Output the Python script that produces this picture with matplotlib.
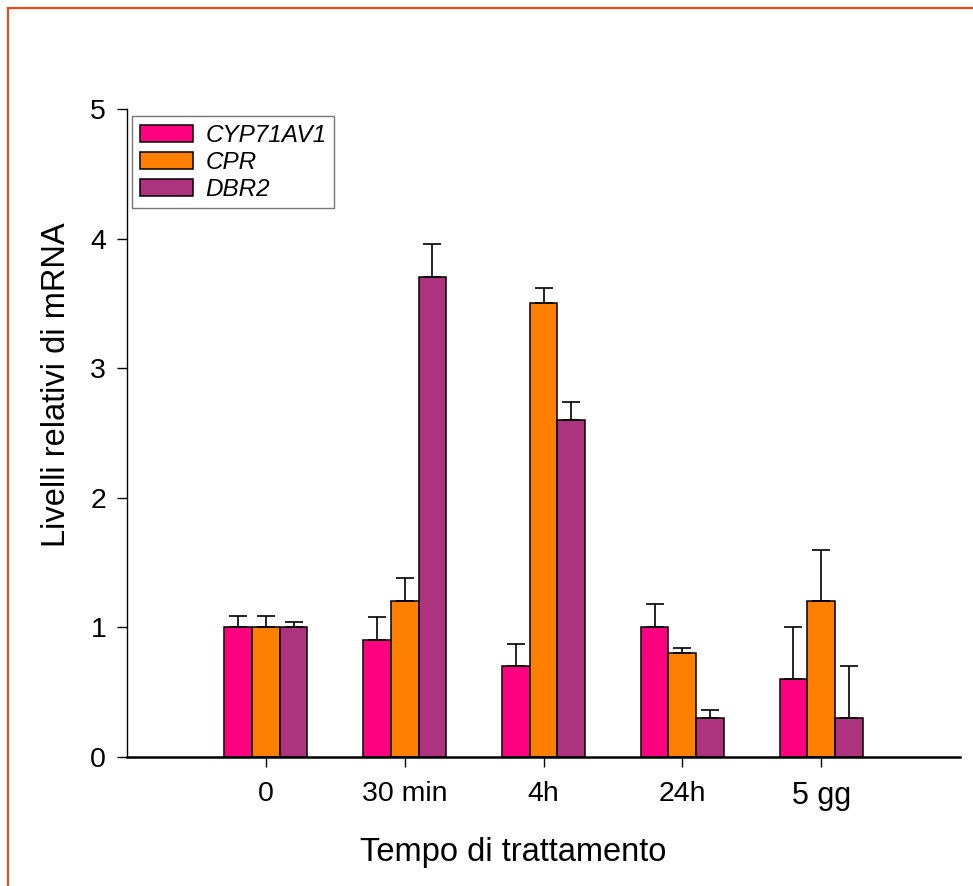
import numpy as np
import matplotlib
matplotlib.use("Agg")
import matplotlib.pyplot as plt
from matplotlib.lines import Line2D

# Data
time_points = ["0", "30 min", "4h", "24h", "5 gg"]
genes = ["CYP71AV1", "CPR", "DBR2"]
cyp71av1 = [1.0, 0.9, 0.7, 1.0, 0.6]
cpr = [1.0, 1.2, 3.5, 0.8, 1.2]
dbr2 = [1.0, 3.7, 2.6, 0.3, 0.3]
cyp71av1_err = [0.09, 0.18, 0.17, 0.18, 0.40]
cpr_err = [0.09, 0.18, 0.12, 0.04, 0.40]
dbr2_err = [0.04, 0.26, 0.14, 0.06, 0.40]
y_ticks = [0, 1, 2, 3, 4, 5]

colors = ["#FF0080", "#FF8000", "#AD337E"]
series = [cyp71av1, cpr, dbr2]
errors = [cyp71av1_err, cpr_err, dbr2_err]

plt.rcParams["font.family"] = ["Liberation Sans", "DejaVu Sans"]

W, H = 973, 886
fig = plt.figure(figsize=(W / 100, H / 100), dpi=100)
ax = fig.add_axes([127 / W, 1 - 757 / H, (960 - 127) / W, (757 - 109) / H])

x = np.arange(len(time_points))
width = 0.2
for i, (vals, errs, col, name) in enumerate(zip(series, errors, colors, genes)):
    pos = x + (i - 1) * width
    ax.bar(pos, vals, width=width, color=col, edgecolor="black",
           linewidth=1.1, label=name, zorder=2)
    ax.errorbar(pos, vals, yerr=[np.zeros(len(vals)), errs], fmt="none",
                ecolor="black", elinewidth=1.2, capsize=6.5, capthick=1.2,
                zorder=3)

ax.set_xlim(-1, 5)
ax.set_ylim(0, 5)
ax.set_yticks(y_ticks)
ax.set_yticklabels([str(v) for v in y_ticks], fontsize=20.5)
ax.set_xticks(x)
ax.set_xticklabels(time_points, fontsize=20.5)
ax.get_xticklabels()[-1].set_fontsize(22)

for side in ("top", "right"):
    ax.spines[side].set_visible(False)
ax.spines["left"].set_linewidth(1.0)
ax.spines["bottom"].set_linewidth(1.8)
ax.tick_params(axis="y", direction="out", length=7, width=1.0, pad=8)
ax.tick_params(axis="x", direction="out", length=7, width=1.0, pad=10)

fig.text(57 / W, 1 - 385 / H, "Livelli relativi di mRNA", rotation=90,
         ha="center", va="center", fontsize=23.5)
fig.text(513 / W, 1 - 852 / H, "Tempo di trattamento",
         ha="center", va="center", fontsize=23.5)

leg = ax.legend(loc="upper left", bbox_to_anchor=(0.006, 0.989),
                borderaxespad=0, fancybox=False, frameon=True,
                prop={"style": "italic", "size": 17.5},
                handlelength=2.2, handleheight=0.72, handletextpad=0.5,
                labelspacing=0.16, borderpad=0.32)
leg.get_frame().set_edgecolor("#555555")
leg.get_frame().set_linewidth(1.0)

# Frame lines along the left and top edges of the figure
frame_col = "#FF4010"
fig.add_artist(Line2D([8 / W, 8 / W], [0, 1 - 8 / H], transform=fig.transFigure,
                      color=frame_col, linewidth=1.5))
fig.add_artist(Line2D([8 / W, 1], [1 - 8 / H, 1 - 8 / H], transform=fig.transFigure,
                      color=frame_col, linewidth=1.5))

fig.savefig("out.png", dpi=100)
